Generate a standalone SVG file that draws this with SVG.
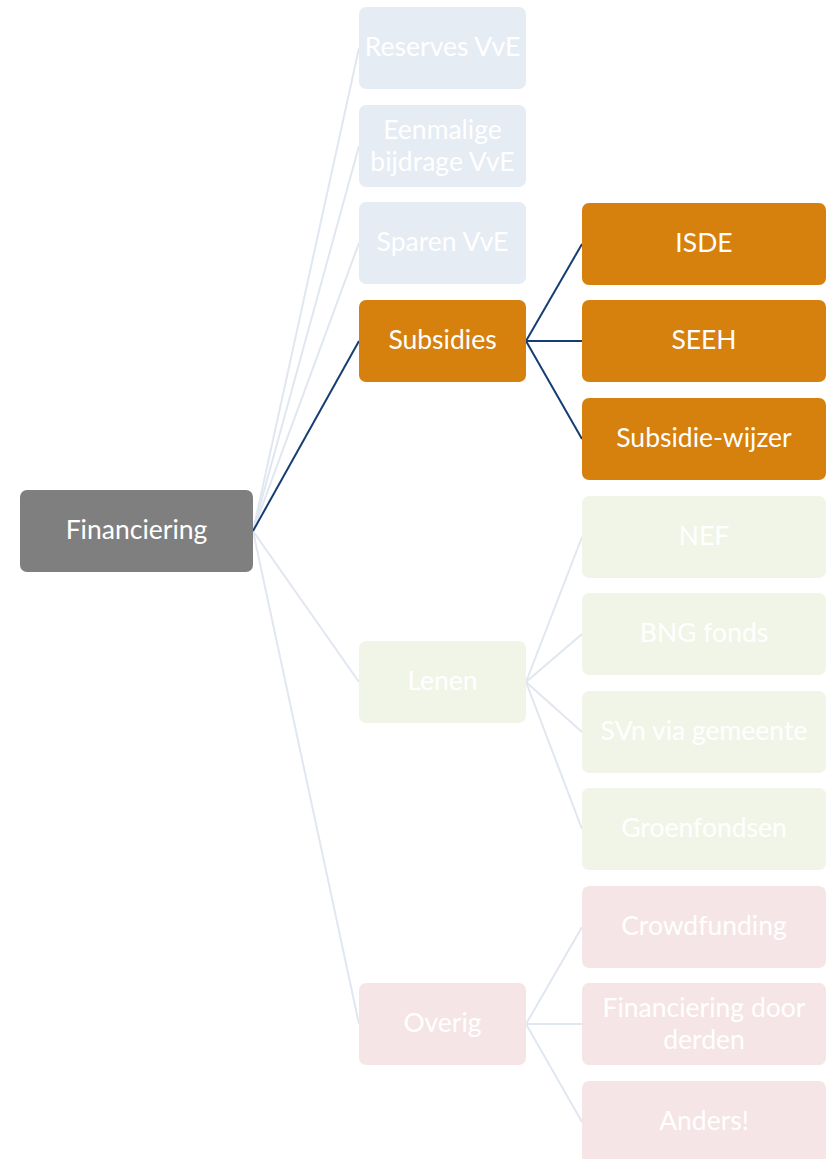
<svg xmlns="http://www.w3.org/2000/svg" width="830" height="1159" viewBox="0 0 830 1159">
  <style>
    .box { stroke: none; }
    .root { fill: #7f7f7f; }
    .hot { fill: #d6800e; }
    .own { fill: #e6ecf4; }
    .loan { fill: #f1f5e8; }
    .misc { fill: #f6e5e6; }
    text { font-family: Lato, "Liberation Sans", sans-serif; font-size: 26.5px; fill: #ffffff; text-anchor: middle; dominant-baseline: central; }
    .link { fill: none; stroke: #e1e7f0; stroke-width: 2; }
    .link.on { stroke: #163d73; stroke-width: 2; }
  </style>

  <g id="connectors">
    <path class="link" d="M253,531 L359,48"/>
    <path class="link" d="M253,531 L359,146"/>
    <path class="link" d="M253,531 L359,243"/>
    <path class="link" d="M253,531 L359,682"/>
    <path class="link" d="M253,531 L359,1024"/>
    <path class="link on" d="M253,531 L359,341"/>
    <path class="link on" d="M526,341 L582,244"/>
    <path class="link on" d="M526,341 L582,341"/>
    <path class="link on" d="M526,341 L582,439"/>
    <path class="link" d="M526,682 L582,537"/>
    <path class="link" d="M526,682 L582,634"/>
    <path class="link" d="M526,682 L582,732"/>
    <path class="link" d="M526,682 L582,829"/>
    <path class="link" d="M526,1024 L582,927"/>
    <path class="link" d="M526,1024 L582,1024"/>
    <path class="link" d="M526,1024 L582,1122"/>
  </g>

  <g id="financiering">
    <rect class="box root" x="20" y="490" width="233" height="82" rx="7"/>
    <text x="136.5" y="529">Financiering</text>
  </g>

  <g id="reserves-vve">
    <rect class="box own" x="359" y="7" width="167" height="82" rx="7"/>
    <text x="442.5" y="46">Reserves VvE</text>
  </g>
  <g id="eenmalige-bijdrage-vve">
    <rect class="box own" x="359" y="105" width="167" height="82" rx="7"/>
    <text x="442.5" y="129">Eenmalige</text>
    <text x="442.5" y="161">bijdrage VvE</text>
  </g>
  <g id="sparen-vve">
    <rect class="box own" x="359" y="202" width="167" height="82" rx="7"/>
    <text x="442.5" y="241">Sparen VvE</text>
  </g>
  <g id="subsidies">
    <rect class="box hot" x="359" y="300" width="167" height="82" rx="7"/>
    <text x="442.5" y="339">Subsidies</text>
  </g>
  <g id="lenen">
    <rect class="box loan" x="359" y="641" width="167" height="82" rx="7"/>
    <text x="442.5" y="680">Lenen</text>
  </g>
  <g id="overig">
    <rect class="box misc" x="359" y="983" width="167" height="82" rx="7"/>
    <text x="442.5" y="1022">Overig</text>
  </g>

  <g id="isde">
    <rect class="box hot" x="582" y="203" width="244" height="82" rx="7"/>
    <text x="704" y="242">ISDE</text>
  </g>
  <g id="seeh">
    <rect class="box hot" x="582" y="300" width="244" height="82" rx="7"/>
    <text x="704" y="339">SEEH</text>
  </g>
  <g id="subsidie-wijzer">
    <rect class="box hot" x="582" y="398" width="244" height="82" rx="7"/>
    <text x="704" y="437">Subsidie-wijzer</text>
  </g>
  <g id="nef">
    <rect class="box loan" x="582" y="496" width="244" height="82" rx="7"/>
    <text x="704" y="535">NEF</text>
  </g>
  <g id="bng-fonds">
    <rect class="box loan" x="582" y="593" width="244" height="82" rx="7"/>
    <text x="704" y="632">BNG fonds</text>
  </g>
  <g id="svn-via-gemeente">
    <rect class="box loan" x="582" y="691" width="244" height="82" rx="7"/>
    <text x="704" y="730">SVn via gemeente</text>
  </g>
  <g id="groenfondsen">
    <rect class="box loan" x="582" y="788" width="244" height="82" rx="7"/>
    <text x="704" y="827">Groenfondsen</text>
  </g>
  <g id="crowdfunding">
    <rect class="box misc" x="582" y="886" width="244" height="82" rx="7"/>
    <text x="704" y="925">Crowdfunding</text>
  </g>
  <g id="financiering-door-derden">
    <rect class="box misc" x="582" y="983" width="244" height="82" rx="7"/>
    <text x="704" y="1007">Financiering door</text>
    <text x="704" y="1039">derden</text>
  </g>
  <g id="anders">
    <rect class="box misc" x="582" y="1081" width="244" height="82" rx="7"/>
    <text x="704" y="1120">Anders!</text>
  </g>
</svg>
